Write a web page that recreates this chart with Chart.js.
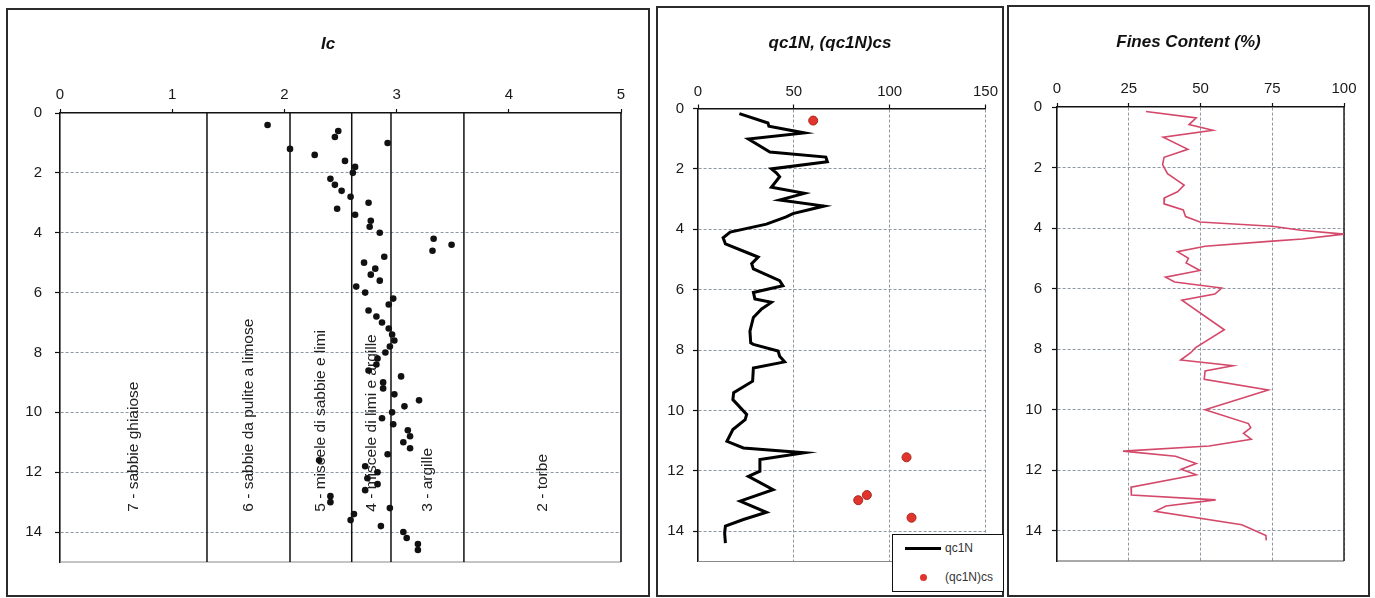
<!DOCTYPE html>
<html>
<head>
<meta charset="utf-8">
<script src="https://cdn.jsdelivr.net/npm/chart.js@4.4.1/dist/chart.umd.min.js"></script>
<style>
  html,body{margin:0;padding:0;background:#fff;}
  body{width:1375px;height:598px;overflow:hidden;position:relative;font-family:'Liberation Sans',Arial,sans-serif;}
  .frame{position:absolute;border:2px solid #2b2b2b;box-sizing:border-box;pointer-events:none;z-index:3;}
  canvas{position:absolute;z-index:1;}
  .title{position:absolute;z-index:2;text-align:center;font:italic bold 17px 'Liberation Sans',Arial,sans-serif;color:#111;line-height:20px;white-space:nowrap;}
  .legend{position:absolute;z-index:4;background:#fff;border:1.5px solid #111;box-sizing:border-box;}
  .legend .item{position:absolute;font:12px 'Liberation Sans',Arial,sans-serif;color:#333;line-height:14px;white-space:nowrap;}
  .legend .sw{position:absolute;}
</style>
</head>
<body>
<div class="frame" style="left:6px;top:8px;width:644px;height:589px;"></div>
<div class="frame" style="left:656px;top:6px;width:348px;height:591px;"></div>
<div class="frame" style="left:1007px;top:5px;width:363px;height:592px;"></div>

<div class="title" style="left:6px;width:644px;top:34px;">Ic</div>
<div class="title" style="left:656px;width:348px;top:33px;">qc1N, (qc1N)cs</div>
<div class="title" style="left:1007px;width:363px;top:32px;">Fines Content (%)</div>

<canvas id="c1" width="640" height="585" style="left:8px;top:10px;"></canvas>
<canvas id="c2" width="344" height="587" style="left:658px;top:8px;"></canvas>
<canvas id="c3" width="359" height="588" style="left:1009px;top:7px;"></canvas>

<div class="legend" id="leg" style="left:892px;top:534px;width:112px;height:58px;"></div>

<script>
// ---------------- DATA ----------------
const depthTicks = [0, 2, 4, 6, 8, 10, 12, 14];
const icTicks = [0, 1, 2, 3, 4, 5];
const qcTicks = [0, 50, 100, 150];
const fcTicks = [0, 25, 50, 75, 100];

// Ic (soil behaviour type index) vs depth
const icDepth = [0.4,0.6,0.8,1.0,1.2,1.4,1.6,1.8,2.0,2.2,2.4,2.6,2.8,3.0,3.2,3.4,3.6,3.8,4.0,4.2,4.4,4.6,4.8,5.0,5.2,5.4,5.6,5.8,6.0,6.2,6.4,6.6,6.8,7.0,7.2,7.4,7.6,7.8,8.0,8.2,8.4,8.6,8.8,9.0,9.2,9.4,9.6,9.8,10.0,10.2,10.4,10.6,10.8,11.0,11.2,11.4,11.6,11.8,12.0,12.2,12.4,12.6,12.8,13.0,13.2,13.4,13.6,13.8,14.0,14.2,14.4,14.6];
const icValue = [1.85,2.48,2.45,2.92,2.05,2.27,2.54,2.63,2.61,2.41,2.45,2.51,2.59,2.75,2.47,2.63,2.77,2.76,2.85,3.33,3.49,3.32,2.89,2.71,2.81,2.77,2.85,2.64,2.72,2.97,2.93,2.75,2.82,2.87,2.93,2.96,2.98,2.94,2.90,2.83,2.82,2.75,3.04,2.88,2.88,2.98,3.20,3.07,2.96,2.87,2.97,3.10,3.12,3.06,3.12,2.92,2.31,2.72,2.83,2.74,2.83,2.72,2.41,2.41,2.94,2.62,2.59,2.86,3.06,3.09,3.19,3.19];

// Ic class limits and names
const zoneLimits = [1.31, 2.05, 2.60, 2.95, 3.60];
const zoneLabels = ['7 - sabbie ghiaiose','6 - sabbie da pulite a limose','5 - miscele di sabbie e limi','4 - miscele di limi e argille','3 - argille','2 - torbe'];

// qc1N profile
const qcDepth = [0.17,0.48,0.59,0.81,1.01,1.44,1.61,1.76,2.0,2.14,2.26,2.61,2.81,3.03,3.23,3.48,3.59,3.83,4.09,4.28,4.48,4.81,4.92,5.14,5.31,5.7,5.87,6.09,6.31,6.42,6.64,6.92,7.37,7.76,7.81,8.03,8.2,8.39,8.59,9.03,9.41,9.64,10.13,10.3,10.63,11.02,11.24,11.4,11.62,12.01,12.18,12.62,13.0,13.37,13.61,13.83,14.06,14.39];
const qcValue = [21.6,36.5,37,55.5,26.3,37.5,66.7,67.5,38.3,41,42.6,38.3,55.5,42.6,65.8,49.5,46,35.7,16.8,13.1,14.3,27.1,31.4,28,28.9,42.6,44.3,28.9,29.7,38.3,33.2,28.9,27.1,27.5,28.9,41.8,42.6,45.2,28.9,28.5,18.6,18.2,25.4,24.6,18.2,15.1,23.7,55.5,32.3,32.3,26.3,39.2,22,35.7,23.7,14.3,13.9,14.3];

// (qc1N)cs points
const qcsDepth = [0.4, 11.55, 12.8, 12.97, 13.55];
const qcsValue = [60.1, 108.8, 88.1, 83.6, 111.4];

// Fines content profile
const fcDepth = [0.15,0.36,0.58,0.77,1.0,1.4,1.66,1.9,2.2,2.58,2.8,3.0,3.2,3.4,3.62,3.8,3.94,4.07,4.2,4.36,4.43,4.6,4.78,5.0,5.15,5.4,5.62,5.78,5.98,6.18,6.38,7.36,7.95,8.12,8.36,8.55,8.72,9.0,9.35,10.0,10.46,10.6,10.78,10.98,11.2,11.37,11.54,11.78,11.97,12.15,12.56,12.82,12.98,13.18,13.36,13.8,14.16,14.32];
const fcValue = [31,48.5,46,54.3,37,45.6,37.3,36.8,38.5,44.3,42,37.5,37.3,44,44.8,49.8,75,85,100,85.5,75,51.6,42,45.8,45,49.8,37.8,41,57.4,55,43.5,58.3,48.3,46.6,43.1,61.3,51.6,51.3,73.6,51.6,66.7,67.5,65,67.7,53,23,41.3,48.5,43.3,48.5,25.8,25.9,55.3,38,34.2,64.4,72.8,72.9];

// ---------------- HELPERS ----------------
const TICK_FONT = "'Liberation Sans Narrow','Liberation Sans',Arial,sans-serif";
const GRID_COL = '#8e98a4';
const pts = (xs, ys) => xs.map((v, i) => ({x: v, y: ys[i]}));

function depthAxis(width, pad) {
  return {
    type: 'linear', reverse: true, min: 0, max: 15,
    afterBuildTicks: s => { s.ticks = depthTicks.map(v => ({value: v})); },
    afterFit: s => { s.width = width; },
    ticks: {padding: pad, color: '#1a1a1a', font: {family: TICK_FONT, size: 15}},
    grid: {
      display: true, drawOnChartArea: true,
      color: c => (c.tick && c.tick.value === 0) ? 'rgba(0,0,0,0)' : GRID_COL,
      lineWidth: 1, tickColor: '#111', tickLength: 5, tickWidth: 1.2, tickBorderDash: []
    },
    border: {display: true, color: '#111', width: 1.6, dash: [3, 2]}
  };
}

function valueAxis(max, tickArr, height, pad, onArea) {
  return {
    type: 'linear', position: 'top', min: 0, max: max,
    afterBuildTicks: s => { s.ticks = tickArr.map(v => ({value: v})); },
    afterFit: s => { s.height = height; },
    ticks: {padding: pad, color: '#1a1a1a', font: {family: TICK_FONT, size: 15}, maxRotation: 0, autoSkip: false},
    grid: {
      display: true, drawOnChartArea: onArea,
      color: c => (c.tick && c.tick.value === 0) ? 'rgba(0,0,0,0)' : GRID_COL,
      lineWidth: 1, tickColor: '#111', tickLength: 4, tickWidth: 1.2, tickBorderDash: []
    },
    border: {display: true, color: '#111', width: 1.6, dash: [3, 2]}
  };
}

const frameEdges = {
  id: 'frameEdges',
  beforeDatasetsDraw(chart, args, o) {
    const {ctx, chartArea: a} = chart;
    ctx.save();
    ctx.setLineDash([]);
    ctx.lineWidth = o.bottomWidth; ctx.strokeStyle = o.bottomColor;
    ctx.beginPath(); ctx.moveTo(a.left, a.bottom); ctx.lineTo(a.right, a.bottom); ctx.stroke();
    if (o.rightColor) {
      ctx.lineWidth = o.rightWidth; ctx.strokeStyle = o.rightColor;
      ctx.beginPath(); ctx.moveTo(a.right, a.top); ctx.lineTo(a.right, a.bottom); ctx.stroke();
    }
    ctx.restore();
  }
};

const zoneText = {
  id: 'zoneText',
  beforeDatasetsDraw(chart, args, o) {
    if (!o || !o.labels) return;
    const xs = chart.scales.x, ys = chart.scales.y, ctx = chart.ctx;
    const edges = [xs.min, ...o.limits, xs.max];
    ctx.save();
    ctx.font = "15.5px 'Liberation Sans',Arial,sans-serif";
    ctx.fillStyle = '#222';
    ctx.textAlign = 'left';
    ctx.textBaseline = 'middle';
    o.labels.forEach((t, i) => {
      const cx = xs.getPixelForValue((edges[i] + edges[i + 1]) / 2);
      const cy = ys.getPixelForValue(o.startDepth);
      ctx.save(); ctx.translate(cx, cy); ctx.rotate(-Math.PI / 2);
      ctx.fillText(t, 0, 0);
      ctx.restore();
    });
    ctx.restore();
  }
};

const common = {
  responsive: false, animation: false, devicePixelRatio: 1,
  events: []
};

// ---------------- CHART 1 : Ic ----------------
const zoneSets = zoneLimits.map(l => ({
  label: 'limit ' + l, data: [{x: l, y: 0}, {x: l, y: 15}], showLine: true,
  borderColor: '#111', borderWidth: 1.5, pointRadius: 0, fill: false
}));

new Chart(document.getElementById('c1'), {
  type: 'scatter',
  data: {datasets: [
    {label: 'Ic', data: pts(icValue, icDepth), pointRadius: 3.3, backgroundColor: '#111', borderWidth: 0},
    ...zoneSets
  ]},
  options: Object.assign({}, common, {
    layout: {padding: {left: 0, top: 0, right: 27, bottom: 33}},
    scales: {x: valueAxis(5, icTicks, 103, 5, false), y: depthAxis(52, 13)},
    plugins: {
      legend: {display: false}, tooltip: {enabled: false},
      frameEdges: {bottomColor: '#8a8a8a', bottomWidth: 1.2, rightColor: '#111', rightWidth: 1.6},
      zoneText: {labels: zoneLabels, limits: zoneLimits, startDepth: 13.32}
    }
  }),
  plugins: [frameEdges, zoneText]
});

// ---------------- CHART 2 : qc1N ----------------
const chart2 = new Chart(document.getElementById('c2'), {
  type: 'scatter',
  data: {datasets: [
    {label: '(qc1N)cs', data: pts(qcsValue, qcsDepth), pointRadius: 4.5, backgroundColor: '#e0342c', borderColor: '#a8281e', borderWidth: 1},
    {label: 'qc1N', data: pts(qcValue, qcDepth), showLine: true, borderColor: '#000', borderWidth: 3, pointRadius: 0, borderJoinStyle: 'miter', fill: false}
  ]},
  options: Object.assign({}, common, {
    layout: {padding: {left: 0, top: 0, right: 15, bottom: 33.5}},
    scales: {x: valueAxis(150, qcTicks, 100.5, 4, true), y: depthAxis(40, 9)},
    plugins: {
      legend: {display: false}, tooltip: {enabled: false},
      frameEdges: {bottomColor: '#8a8a8a', bottomWidth: 1.2}
    }
  }),
  plugins: [frameEdges]
});

// ---------------- CHART 3 : Fines content ----------------
new Chart(document.getElementById('c3'), {
  type: 'scatter',
  data: {datasets: [
    {label: 'FC', data: pts(fcValue, fcDepth), showLine: true, borderColor: '#d4486a', borderWidth: 1.6, pointRadius: 0, fill: false}
  ]},
  options: Object.assign({}, common, {
    layout: {padding: {left: 0, top: 0, right: 24, bottom: 34}},
    scales: {x: valueAxis(100, fcTicks, 100, 5, true), y: depthAxis(48, 10)},
    plugins: {
      legend: {display: false}, tooltip: {enabled: false},
      frameEdges: {bottomColor: '#555', bottomWidth: 1.2, rightColor: '#222', rightWidth: 1.5}
    }
  }),
  plugins: [frameEdges]
});

// ---------------- HTML legend for chart 2 (built from its datasets) ----------------
(function () {
  const leg = document.getElementById('leg');
  const order = ['qc1N', '(qc1N)cs'];
  order.forEach((name, i) => {
    const ds = chart2.data.datasets.find(d => d.label === name);
    const rowY = i === 0 ? 13 : 42;
    const sw = document.createElement('div');
    sw.className = 'sw';
    if (ds.showLine) {
      sw.style.cssText = `left:12px;top:${rowY - 1.5}px;width:36px;height:3px;background:${ds.borderColor};`;
    } else {
      sw.style.cssText = `left:27px;top:${rowY - 3.5}px;width:7px;height:7px;border-radius:50%;background:${ds.backgroundColor};`;
    }
    leg.appendChild(sw);
    const tx = document.createElement('div');
    tx.className = 'item';
    tx.style.left = '52px';
    tx.style.top = (rowY - 7) + 'px';
    tx.textContent = ds.label;
    leg.appendChild(tx);
  });
})();
</script>
</body>
</html>
